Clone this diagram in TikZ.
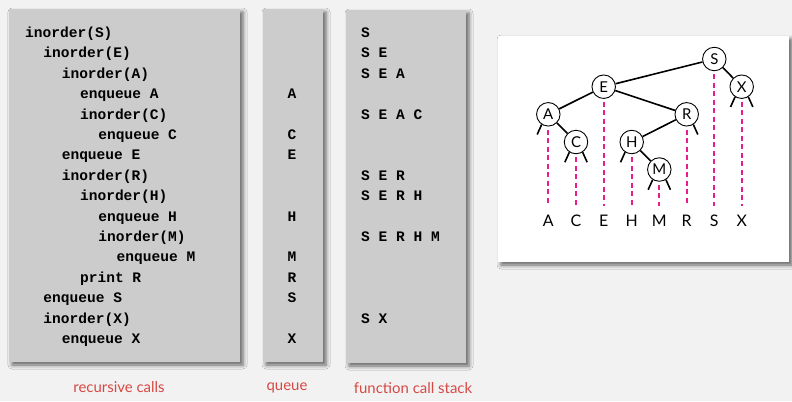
\documentclass[tikz,border=0pt]{standalone}
\usepackage{fontspec}
\setmainfont{Lato}
\newfontfamily\codefont{Liberation Mono}
\usetikzlibrary{shadows.blur}
\definecolor{bgc}{HTML}{F2F2F2}
\definecolor{panelc}{HTML}{CCCCCC}
\definecolor{capc}{RGB}{214,72,68}
\definecolor{dashc}{RGB}{232,28,140}
\tikzset{
  panel/.style={fill=panelc, draw=none, blur shadow={shadow xshift=3bp, shadow yshift=-3bp, shadow blur radius=4bp, shadow opacity=60}},
  treepanel/.style={fill=white, draw=none, blur shadow={shadow xshift=3bp, shadow yshift=-3bp, shadow blur radius=4bp, shadow opacity=60}},
  code/.style={anchor=base west, inner sep=0pt, font=\codefont\bfseries\fontsize{14.6}{16}\selectfont},
  qcode/.style={anchor=base, inner sep=0pt, font=\codefont\bfseries\fontsize{14.6}{16}\selectfont},
  caption/.style={text=capc, font=\fontsize{15}{17}\selectfont, inner sep=0pt},
  tnode/.style={circle, draw=black, fill=white, line width=0.9bp, minimum size=23.5bp, inner sep=0pt, font=\fontsize{15}{16}\selectfont},
  tedge/.style={line width=1.6bp, black},
  nulllink/.style={line width=1.6bp, black},
  guide/.style={dashc, line width=1.9bp, dash pattern=on 5bp off 3.5bp},
  keylbl/.style={inner sep=0pt, font=\fontsize{16}{18}\selectfont},
}
\begin{document}
\begin{tikzpicture}[x=1bp,y=-1bp]
\fill[bgc] (0,0) rectangle (792,401);
\useasboundingbox (0,0) rectangle (792,401);

% panels
\path[panel] (9,9) rectangle (240,362);
\path[panel] (263,9) rectangle (323,362);
\path[panel] (346,10) rectangle (466,363);
\path[treepanel] (498,36) rectangle (789,262);

% recursive calls
\def\ind{18.3}
\foreach \lvl/\row/\txt [count=\i] in {
  0/0/{inorder(S)}, 1/1/{inorder(E)}, 2/2/{inorder(A)}, 3/3/{enqueue A},
  3/4/{inorder(C)}, 4/5/{enqueue C}, 2/6/{enqueue E}, 2/7/{inorder(R)},
  3/8/{inorder(H)}, 4/9/{enqueue H}, 4/10/{inorder(M)}, 5/11/{enqueue M},
  3/12/{print R}, 1/13/{enqueue S}, 1/14/{inorder(X)}, 2/15/{enqueue X}}
  \node[code] (rc\i) at ({25+\lvl*\ind},{37.4+\row*20.4}) {\txt};

% queue
\foreach \row/\txt [count=\i] in {3/A,5/C,6/E,9/H,11/M,12/R,13/S,15/X}
  \node[qcode] (q\i) at (292,{37.4+\row*20.4}) {\txt};

% function call stack
\foreach \row/\txt [count=\i] in {0/S,1/{S E},2/{S E A},4/{S E A C},7/{S E R},8/{S E R H},10/{S E R H M},14/{S X}}
  \node[code] (st\i) at (361,{37.4+\row*20.4}) {\txt};

% captions
\node[caption] (cap1) at (119,387) {recursive calls};
\node[caption] (cap2) at (287,388) {queue};
\node[caption] (cap3) at (413,388) {function call stack};

% tree
\node[tnode] (S) at (714.3,59) {S};
\node[tnode] (E) at (603.7,86.7) {E};
\node[tnode] (X) at (741.7,86.7) {X};
\node[tnode] (A) at (548.3,114.3) {A};
\node[tnode] (R) at (686.7,114.3) {R};
\node[tnode] (C) at (576,142) {C};
\node[tnode] (H) at (631.7,142) {H};
\node[tnode] (M) at (659.3,169.5) {M};

\draw[tedge] (S) -- (E);
\draw[tedge] (S) -- (X);
\draw[tedge] (E) -- (A);
\draw[tedge] (E) -- (R);
\draw[tedge] (A) -- (C);
\draw[tedge] (R) -- (H);
\draw[tedge] (H) -- (M);

% null links
\foreach \n/\l/\r in {A/1/0,C/1/1,H/1/0,M/1/1,X/1/1,R/0/1} {
  \ifnum\l=1 \draw[nulllink] (\n.237) -- ++(-4.5,10); \fi
  \ifnum\r=1 \draw[nulllink] (\n.303) -- ++(4.5,10); \fi
}

% guide lines and keys
\foreach \n in {A,C,E,H,M,R,S,X} {
  \draw[guide] ([yshift=-3bp]\n.south) -- (\n.south |- 0,206);
}
\foreach \n/\t in {A/A,C/C,E/E,H/H,M/M,R/R,S/S,X/X}
  \node[keylbl] (k\n) at (\n |- 0,221) {\t};
\end{tikzpicture}
\end{document}
